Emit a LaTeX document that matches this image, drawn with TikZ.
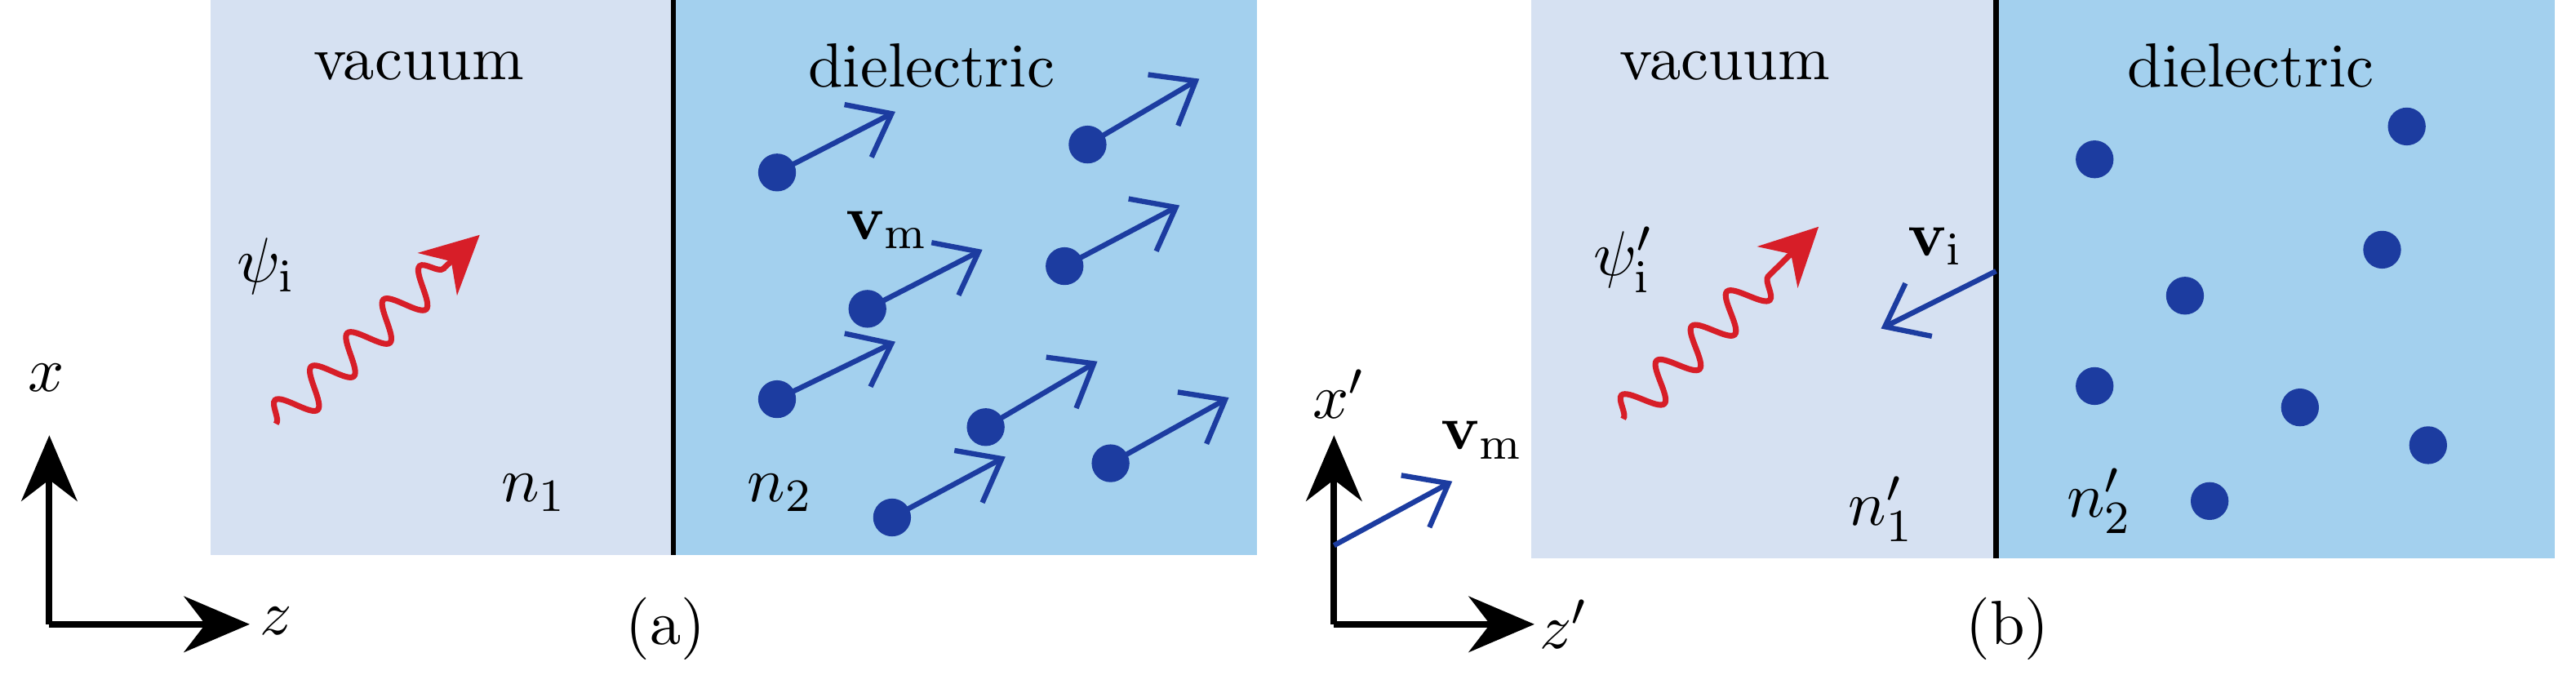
\documentclass[tikz,border=0pt]{standalone}
\usetikzlibrary{arrows.meta,decorations.pathmorphing}
\definecolor{vac}{RGB}{214,225,242}
\definecolor{diel}{RGB}{163,208,238}
\definecolor{dotb}{RGB}{28,60,160}
\definecolor{wred}{RGB}{215,30,40}
\begin{document}
\begin{tikzpicture}[x=0.01cm,y=-0.01cm,font=\fontsize{10.8}{13}\selectfont,
  dotm/.style={circle,fill=dotb,inner sep=0pt,minimum size=2.3mm},
  varr/.style={draw=dotb,line width=0.9pt,-{Straight Barb[length=2.3mm,width=3.6mm]}},
  axarr/.style={line width=1.1pt,-{Stealth[length=4mm,width=3.4mm]}},
  wave/.style={draw=wred,line width=1pt,decorate,decoration={snake,segment length=3mm,amplitude=1.1mm,post length=3mm},-{Stealth[length=3.5mm,width=3.5mm]}},
  lab/.style={inner sep=0pt}]
\useasboundingbox (0,0) rectangle (1568,416);
% panel a
\fill[vac] (128,0) rectangle (410,338);
\fill[diel] (410,0) rectangle (765,338);
\draw[line width=0.9pt] (410,0) -- (410,338);
\node[lab] at (255,40) {vacuum};
\node[lab] at (567,40) {dielectric};
\node[lab] (n1) at (325,300) {$n_1$};
\node[lab] (n2) at (475,300) {$n_2$};
\node[lab] (vm) at (540,140) {$\mathbf{v}_\mathrm{m}$};
\node[lab] (psi) at (162,162) {$\psi_\mathrm{i}$};
\coordinate (w1s) at (168,258); \coordinate (w1e) at (292,143);
\draw[wave] (w1s) -- (w1e);
\foreach \a/\b/\c/\d [count=\i] in {473/105/545/68, 662/88/730/48, 528/188/598/152, 648/162/718/125, 473/243/545/208, 600/260/668/220, 543/315/612/278, 676/282/748/242}{
  \node[dotm] (da\i) at (\a,\b) {};
  \coordinate (ea\i) at (\c,\d);
  \draw[varr] (da\i.center) -- (ea\i);
}
\coordinate (oa) at (30,380); \coordinate (xa) at (30,265); \coordinate (za) at (152,380);
\draw[axarr] (oa) -- (xa); \draw[axarr] (oa) -- (za);
\node[lab] (xl) at (28,230) {$x$};
\node[lab] (zl) at (168,378) {$z$};
\node[lab] (la) at (405,383) {(a)};
% panel b
\fill[vac] (932,0) rectangle (1215,340);
\fill[diel] (1215,0) rectangle (1555,340);
\draw[line width=0.9pt] (1215,0) -- (1215,340);
\node[lab] at (1050,40) {vacuum};
\node[lab] at (1370,40) {dielectric};
\node[lab] (n1p) at (1145,310) {$n_1'$};
\node[lab] (n2p) at (1278,305) {$n_2'$};
\node[lab] (psip) at (988,158) {$\psi_\mathrm{i}'$};
\node[lab] (vi) at (1178,150) {$\mathbf{v}_\mathrm{i}$};
\coordinate (w2s) at (988,255); \coordinate (w2e) at (1107,138);
\draw[wave] (w2s) -- (w2e);
\coordinate (vis) at (1215,165); \coordinate (vie) at (1145,200);
\draw[varr] (vis) -- (vie);
\foreach \a/\b [count=\i] in {1275/97,1465/77,1450/152,1330/180,1275/235,1400/248,1478/271,1345/305}{
  \node[dotm] (db\i) at (\a,\b) {};
}
\coordinate (ob) at (812,380); \coordinate (xb) at (812,265); \coordinate (zb) at (934,380);
\draw[axarr] (ob) -- (xb); \draw[axarr] (ob) -- (zb);
\coordinate (vms) at (812,332); \coordinate (vme) at (884,293);
\draw[varr] (vms) -- (vme);
\node[lab] (vmb) at (902,268) {$\mathbf{v}_\mathrm{m}$};
\node[lab] (xlb) at (815,240) {$x'$};
\node[lab] (zlb) at (952,380) {$z'$};
\node[lab] (lb) at (1222,383) {(b)};
\end{tikzpicture}
\end{document}
